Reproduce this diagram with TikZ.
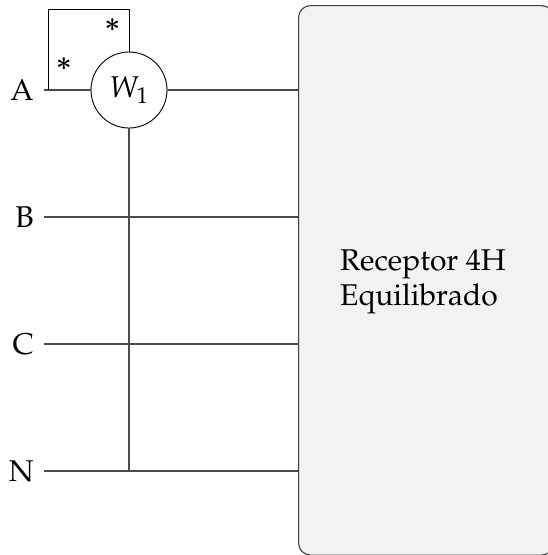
\documentclass[tikz,border=0pt]{standalone}
\usepackage[T1]{fontenc}
\usepackage{mathpazo}
\tikzset{
  wire/.style={line width=1.1pt,draw=black!70},
  phase/.style={anchor=east,inner sep=0pt,inner xsep=10pt,font=\fontsize{30}{36}\selectfont},
  star/.style={inner sep=0pt,font=\fontsize{26}{30}\selectfont\boldmath}
}
\begin{document}
\begin{tikzpicture}[x=1pt,y=-1pt]
\useasboundingbox (0,0) rectangle (548,555);
% The load
\node[draw=black!75,line width=1.1pt,fill=black!5,rounded corners=12pt,anchor=north west,
  minimum width=255pt,minimum height=549.5pt,inner sep=0pt] (box) at (298,5) {};
\node[anchor=west,align=left,inner sep=0pt,font=\fontsize{30}{35}\selectfont] (txt) at (340,282) {Receptor 4H\\Equilibrado};

% The phases
\node[phase] (A) at (44,90) {A};
\node[phase] (B) at (44,217) {B};
\node[phase] (C) at (44,344) {C};
\node[phase] (N) at (44,471) {N};
\foreach \pha in {B,C,N} {
  \draw[wire] (\pha.east) -- (\pha.east -| box.west);
}

% The wattmeter
\node[draw,circle,line width=0.9pt,minimum size=76pt,inner sep=0pt,font=\fontsize{30}{36}\selectfont] (W) at (129,90) {$W_1$};
\coordinate (CL) at (48,90);
\coordinate (TL) at (48,9);
\coordinate (TR) at (129,9);
\draw[wire] (A.east) -- (W.west);
\draw[wire] (W.east) -- (W.east -| box.west);
\draw[wire] (W.south) -- (W.south |- N.east);
\draw[line width=0.9pt] (CL) -- (TL) -- (TR) -- (W.north);

% The marks
\node[star] (s1) at (112.5,25) {$*$};
\node[star] (s2) at (64,64) {$*$};
\end{tikzpicture}
\end{document}
